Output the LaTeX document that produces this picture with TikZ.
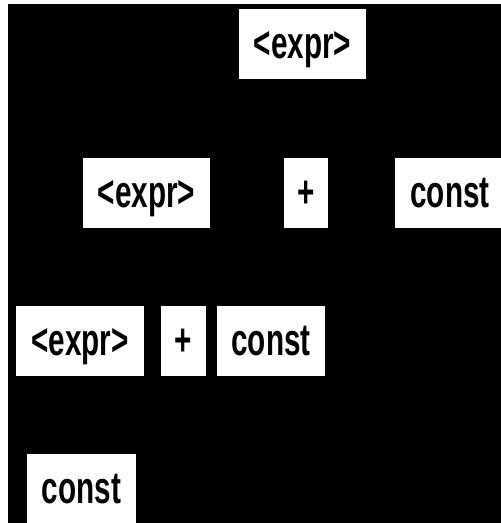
\documentclass[tikz,border=0pt]{standalone}
\usepackage{fontspec}
\newfontfamily\labfont{Liberation Sans}[FakeStretch=0.66]
\tikzset{
  sym/.style={fill=white, draw=none, inner xsep=0pt, inner ysep=0pt,
    text height=49pt, text depth=21pt, align=center,
    font=\labfont\bfseries\fontsize{45}{50}\selectfont}
}
\begin{document}
\begin{tikzpicture}[x=1pt,y=-1pt]
\useasboundingbox (0,0) rectangle (501,523);
\fill[white] (0,0) rectangle (501,523);
\fill[black] (8,4) rectangle (501,523);
\begin{scope}
\clip (0,0) rectangle (501,523);
\node[sym, minimum width=127pt] (root) at (302.5,44) {<expr>};
\node[sym, minimum width=127pt] (e1) at (146.5,193) {<expr>};
\node[sym, minimum width=44pt] (p1) at (306,193) {+};
\node[sym, minimum width=110pt] (c1) at (450,193) {const};
\node[sym, minimum width=128pt] (e2) at (80,341) {<expr>};
\node[sym, minimum width=45pt] (p2) at (183.5,341) {+};
\node[sym, minimum width=108pt] (c2) at (271,341) {const};
\node[sym, minimum width=109pt] (c3) at (81.5,489) {const};
\end{scope}
\end{tikzpicture}
\end{document}
